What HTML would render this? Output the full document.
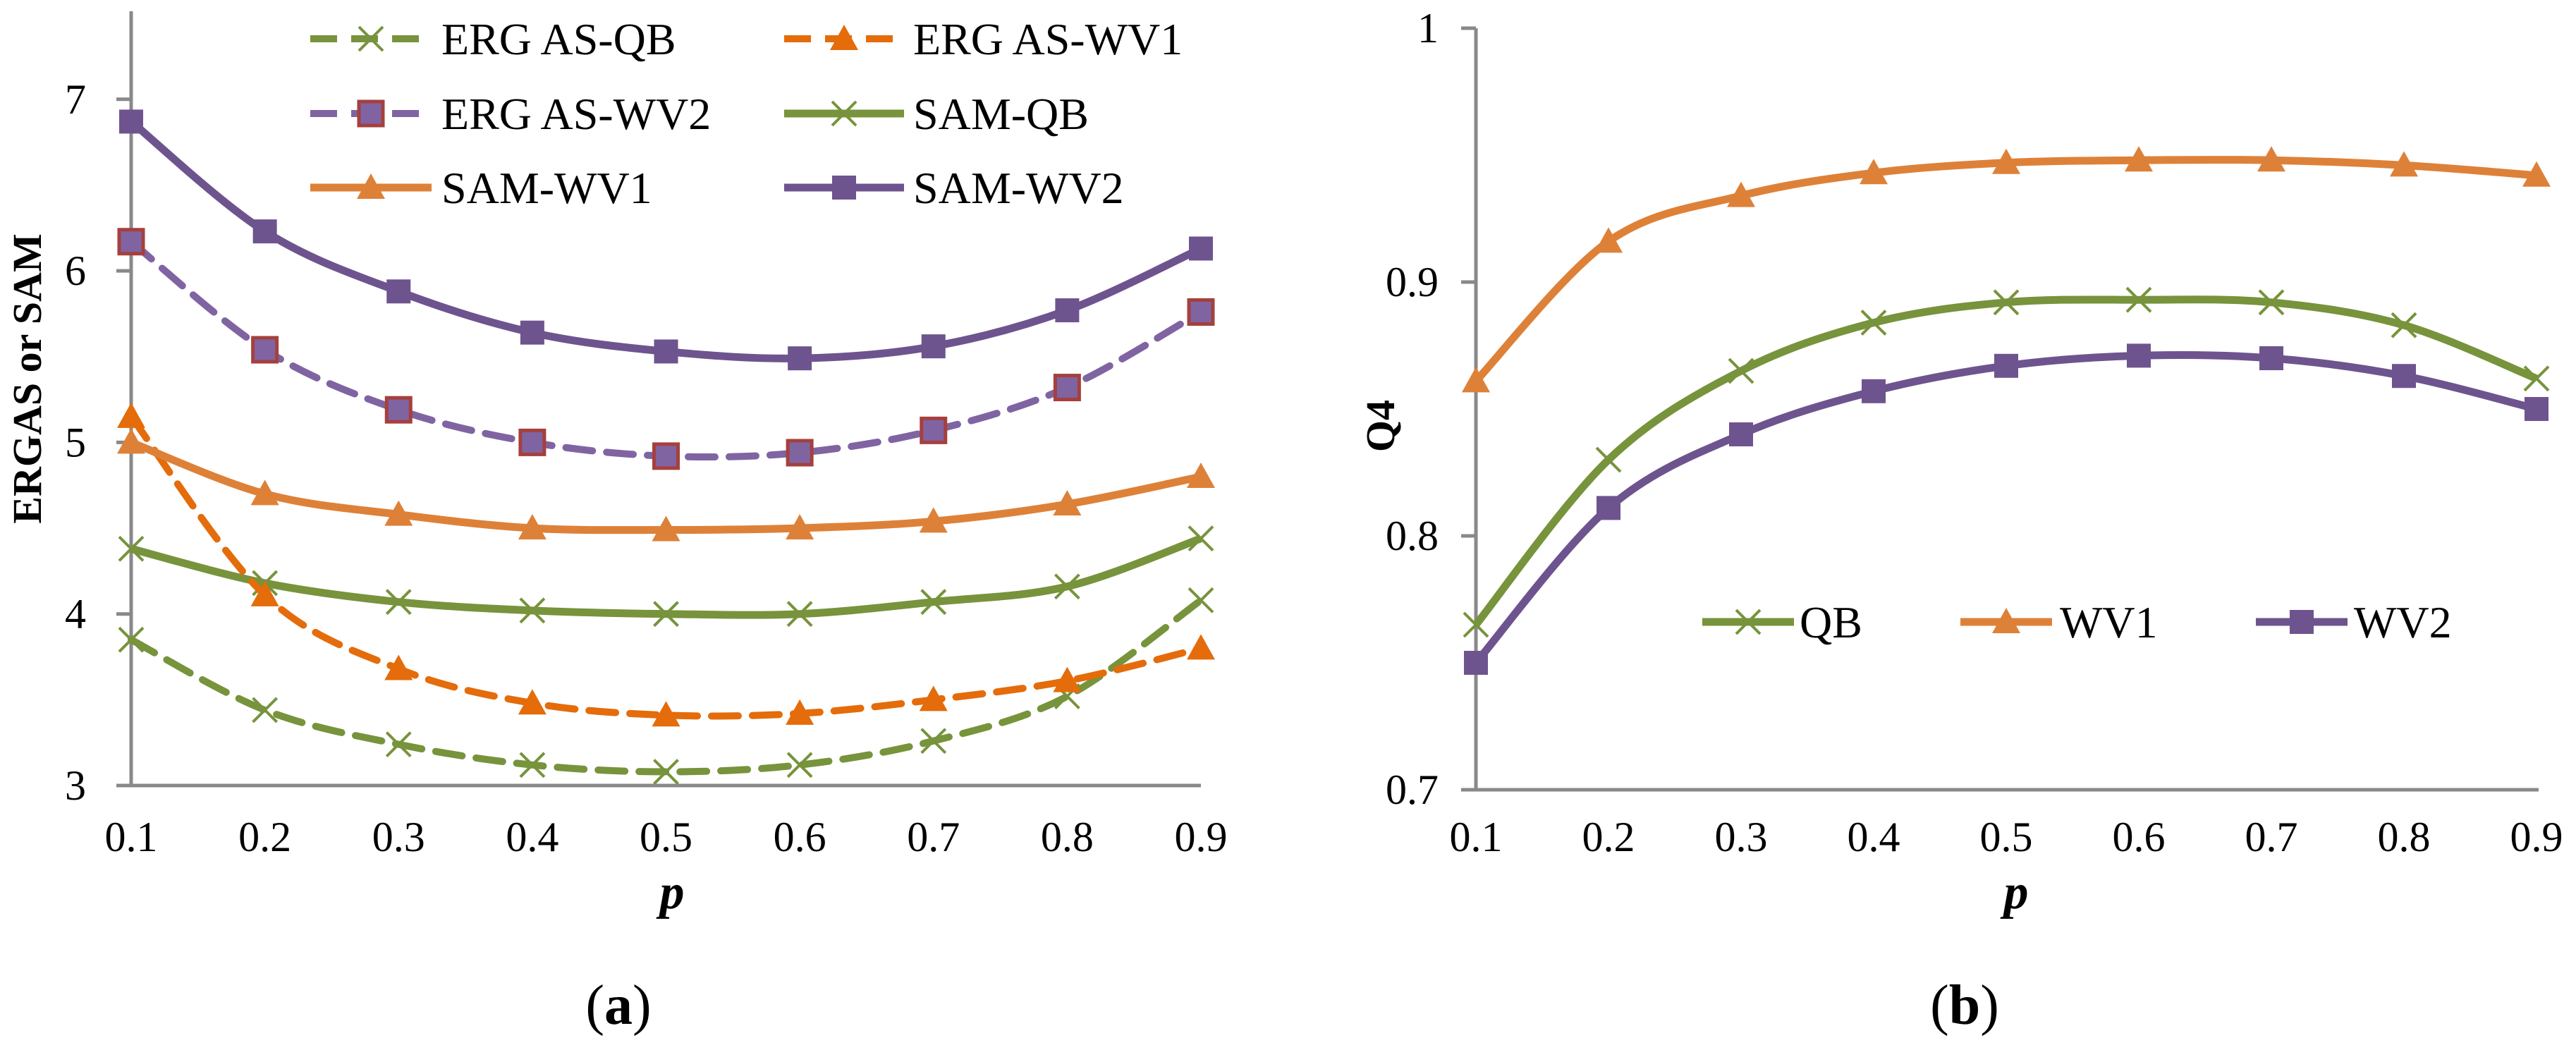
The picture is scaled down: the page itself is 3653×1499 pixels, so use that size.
<!DOCTYPE html>
<html><head><meta charset="utf-8"><style>
html,body{margin:0;padding:0;background:#fff;}
svg{display:block;font-family:"Liberation Serif",serif;}
</style></head><body>
<svg id="fig" width="3653" height="1499" viewBox="0 0 3653 1499" xmlns="http://www.w3.org/2000/svg"></svg>
<script>
const xCats = [0.1,0.2,0.3,0.4,0.5,0.6,0.7,0.8,0.9];
const xTickLabels = ["0.1","0.2","0.3","0.4","0.5","0.6","0.7","0.8","0.9"];
// Panel (a)
const aYTicks = [3,4,5,6,7];
const ergasQB  = [3.85,3.44,3.24,3.12,3.08,3.12,3.26,3.52,4.08];
const ergasWV1 = [5.15,4.11,3.68,3.48,3.41,3.42,3.50,3.61,3.80];
const ergasWV2 = [6.17,5.54,5.19,5.00,4.92,4.94,5.07,5.32,5.76];
const samQB    = [4.38,4.18,4.07,4.02,4.00,4.00,4.07,4.16,4.44];
const samWV1   = [5.00,4.70,4.58,4.50,4.49,4.50,4.54,4.64,4.80];
const samWV2   = [6.87,6.23,5.88,5.64,5.53,5.49,5.56,5.77,6.13];
// Panel (b)
const bYTicks = [0.7,0.8,0.9,1];
const bYTickLabels = ["0.7","0.8","0.9","1"];
const q4QB  = [0.765,0.830,0.865,0.884,0.892,0.893,0.892,0.883,0.862];
const q4WV1 = [0.861,0.916,0.934,0.943,0.947,0.948,0.948,0.946,0.942];
const q4WV2 = [0.750,0.811,0.840,0.857,0.867,0.871,0.870,0.863,0.850];

const NS="http://www.w3.org/2000/svg";
const svg=document.getElementById('fig');
function mk(tag,attrs,parent){const e=document.createElementNS(NS,tag);for(const k in attrs)e.setAttribute(k,attrs[k]);(parent||svg).appendChild(e);return e;}

const GREEN="#77933C", ORANGE_D="#E46C0A", ORANGE="#DE8138", PURPLE="#6E548E", PURPLE_L="#8064A2", RED="#A5403D", AXIS="#898989";

function smoothPath(pts){
  let d="M"+pts[0][0]+","+pts[0][1];
  for(let i=0;i<pts.length-1;i++){
    const p0=pts[i-1]||pts[i],p1=pts[i],p2=pts[i+1],p3=pts[i+2]||p2;
    const t=1/6;
    const c1=[p1[0]+(p2[0]-p0[0])*t,p1[1]+(p2[1]-p0[1])*t];
    const c2=[p2[0]-(p3[0]-p1[0])*t,p2[1]-(p3[1]-p1[1])*t];
    d+=" C"+c1[0]+","+c1[1]+" "+c2[0]+","+c2[1]+" "+p2[0]+","+p2[1];
  }
  return d;
}
function marker(type,x,y,g,col,fill,stroke){
  let m;
  if(type==='x'){
    m=mk('path',{d:`M${x-17},${y-17}L${x+17},${y+17}M${x-17},${y+17}L${x+17},${y-17}`,stroke:col,'stroke-width':4,fill:'none'},g);
  }else if(type==='tri'){
    m=mk('polygon',{points:`${x},${y-20} ${x+20},${y+16} ${x-20},${y+16}`,fill:col},g);
  }else{
    m=mk('rect',{x:x-17,y:y-17,width:34,height:34,fill:fill||col,stroke:stroke||'none','stroke-width':stroke?5:0},g);
  }
  return m;
}
function drawSeries(vals,xs,ys,opt,name){
  const g=mk('g',{});
  
  
  const pts=vals.map((v,i)=>[xs(xCats[i]),ys(v)]);
  const p=mk('path',{d:smoothPath(pts),fill:'none',stroke:opt.col,'stroke-width':opt.w,'stroke-dasharray':opt.dash||'none','stroke-linecap':opt.dash?'round':'butt'},g);
  
  
  pts.forEach((q,i)=>{
    const m=marker(opt.m,q[0],q[1],g,opt.mcol||opt.col,opt.fill,opt.stroke);
    
    
  });
}
function legendEntry(x1,x2,y,tx,label,opt,name,fs,ls){
  const g=mk('g',{});
  
  
  mk('line',{x1:x1,y1:y,x2:x2,y2:y,stroke:opt.col,'stroke-width':opt.w,'stroke-dasharray':opt.dash||'none'},g);
  marker(opt.m,(x1+x2)/2,y,g,opt.mcol||opt.col,opt.fill,opt.stroke);
  const t=mk('text',{x:tx,y:y+22,'font-size':fs,fill:'#000','letter-spacing':ls||0},g);
  t.textContent=label;
}
function axes(x0,x1,y0,yTop,xs,ys,yt,ytl,labRight,prefix){
  const g=mk('g',{});
  
  
  mk('line',{x1:x0,y1:yTop,x2:x0,y2:y0+2,stroke:AXIS,'stroke-width':5},g);
  mk('line',{x1:x0-21,y1:y0,x2:x1,y2:y0,stroke:AXIS,'stroke-width':5},g);
  yt.forEach((v,i)=>{
    mk('line',{x1:x0-21,y1:ys(v),x2:x0,y2:ys(v),stroke:AXIS,'stroke-width':5},g);
    const t=mk('text',{x:labRight,y:ys(v)+20,'text-anchor':'end','font-size':60},g);
    t.textContent=ytl[i];
    
    
  });
  xCats.forEach((c,i)=>{
    const t=mk('text',{x:xs(c),y:1207,'text-anchor':'middle','font-size':60},g);
    t.textContent=xTickLabels[i];
    
    
  });
}

// ---- Panel (a)
const ax=v=>186+(v-0.1)/0.8*(1703-186);
const ay=v=>1114-(v-3)*243.3;
axes(186,1703,1114,16,ax,ay,aYTicks,aYTicks.map(String),122,'a');
const oEQ={col:GREEN,w:10,dash:'38 20',m:'x'};
const oEW1={col:ORANGE_D,w:10,dash:'38 20',m:'tri'};
const oEW2={col:PURPLE_L,w:10,dash:'38 20',m:'sq',fill:PURPLE_L,stroke:RED};
const oSQ={col:GREEN,w:11,m:'x'};
const oSW1={col:ORANGE,w:11,m:'tri'};
const oSW2={col:PURPLE,w:11,m:'sq'};
drawSeries(ergasQB,ax,ay,oEQ,'series-ergas-qb');
drawSeries(samQB,ax,ay,oSQ,'series-sam-qb');
drawSeries(ergasWV1,ax,ay,oEW1,'series-ergas-wv1');
drawSeries(samWV1,ax,ay,oSW1,'series-sam-wv1');
drawSeries(ergasWV2,ax,ay,oEW2,'series-ergas-wv2');
drawSeries(samWV2,ax,ay,oSW2,'series-sam-wv2');
legendEntry(440,612,55,626,"ERG AS-QB",oEQ,'legend-ergas-qb',64);
legendEntry(1112,1282,55,1295,"ERG AS-WV1",oEW1,'legend-ergas-wv1',64);
legendEntry(440,612,161,626,"ERG AS-WV2",oEW2,'legend-ergas-wv2',64);
legendEntry(1112,1282,161,1295,"SAM-QB",oSQ,'legend-sam-qb',64);
legendEntry(440,612,266,626,"SAM-WV1",oSW1,'legend-sam-wv1',64);
legendEntry(1112,1282,266,1295,"SAM-WV2",oSW2,'legend-sam-wv2',64);
let t=mk('text',{x:0,y:0,transform:'translate(58,537) rotate(-90)','text-anchor':'middle','font-size':58,'font-weight':'bold'});
t.textContent="ERGAS  or SAM";

t=mk('text',{x:953,y:1288,'text-anchor':'middle','font-size':70,'font-weight':'bold','font-style':'italic'});
t.textContent="p";

t=mk('text',{x:877,y:1452,'text-anchor':'middle','font-size':80});
t.innerHTML='(<tspan font-weight="bold">a</tspan>)';


// ---- Panel (b)
const bx=v=>2093+(v-0.1)/0.8*(3597-2093);
const by=v=>1120-(v-0.7)*3600;
axes(2093,3600,1120,40,bx,by,bYTicks,bYTickLabels,2040,'b');
const oQB={col:GREEN,w:11,m:'x'};
const oW1={col:ORANGE,w:11,m:'tri'};
const oW2={col:PURPLE,w:11,m:'sq'};
drawSeries(q4WV1,bx,by,oW1,'series-q4-wv1');
drawSeries(q4QB,bx,by,oQB,'series-q4-qb');
drawSeries(q4WV2,bx,by,oW2,'series-q4-wv2');
legendEntry(2414,2544,882,2552,"QB",oQB,'legend-qb',64);
legendEntry(2780,2910,882,2921,"WV1",oW1,'legend-wv1',64);
legendEntry(3199,3329,882,3338,"WV2",oW2,'legend-wv2',64);
t=mk('text',{x:0,y:0,transform:'translate(1977,604) rotate(-90)','text-anchor':'middle','font-size':58,'font-weight':'bold'});
t.textContent="Q4";

t=mk('text',{x:2859,y:1288,'text-anchor':'middle','font-size':70,'font-weight':'bold','font-style':'italic'});
t.textContent="p";

t=mk('text',{x:2786,y:1452,'text-anchor':'middle','font-size':80});
t.innerHTML='(<tspan font-weight="bold">b</tspan>)';

</script>
</body></html>
